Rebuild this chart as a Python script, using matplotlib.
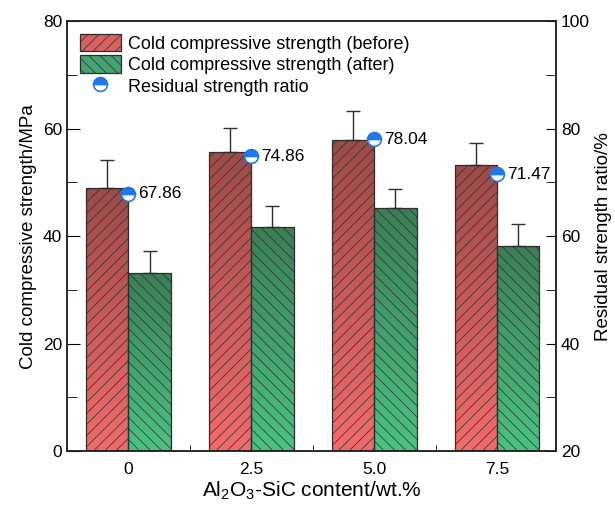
import numpy as np
import matplotlib
matplotlib.use("Agg")
import matplotlib.pyplot as plt
from matplotlib.patches import Patch
from matplotlib.lines import Line2D
from matplotlib.colors import LinearSegmentedColormap

# === Datos ===
contenido = ["0", "2.5", "5.0", "7.5"]
antes = [49.0, 55.7, 57.9, 53.3]
antes_err = [5.1, 4.4, 5.3, 4.1]
despues = [33.2, 41.7, 45.2, 38.2]
despues_err = [4.0, 3.9, 3.6, 4.0]
ratio = [67.86, 74.86, 78.04, 71.47]

plt.rcParams['font.family'] = ['Liberation Sans', 'DejaVu Sans']
plt.rcParams['hatch.linewidth'] = 0.5

rojo = LinearSegmentedColormap.from_list("rojo", ["#f26b6b", "#9c4a4a"])
verde = LinearSegmentedColormap.from_list("verde", ["#4cc184", "#3c7d57"])

fig = plt.figure(figsize=(6.15, 5.05), dpi=100)
ax = fig.add_axes([0.109, 0.107, 0.795, 0.851])

x = np.arange(len(contenido))
w = 0.345
grad = np.linspace(0, 1, 256).reshape(-1, 1)


def barras_degradado(xs, vals, cmap, hatch):
    bars = ax.bar(xs, vals, w, facecolor='none', edgecolor='#2e2e2e',
                  linewidth=0.9, hatch=hatch, zorder=3)
    for b in bars:
        x0, y0 = b.get_x(), b.get_y()
        img = ax.imshow(grad, cmap=cmap, origin='lower', aspect='auto',
                        extent=(x0, x0 + b.get_width(), y0, y0 + b.get_height()),
                        zorder=2)
        img.set_clip_path(b)
    return bars


barras_degradado(x - w / 2, antes, rojo, '///')
barras_degradado(x + w / 2, despues, verde, '\\\\\\')

ax.errorbar(x - w / 2, antes, yerr=[np.zeros(4), antes_err], fmt='none',
            ecolor='#2e2e2e', elinewidth=1, capsize=5, capthick=1, zorder=4)
ax.errorbar(x + w / 2, despues, yerr=[np.zeros(4), despues_err], fmt='none',
            ecolor='#2e2e2e', elinewidth=1, capsize=5, capthick=1, zorder=4)

ax.set_xlim(-0.5, 3.48)
ax.set_ylim(0, 80)
ax.set_xticks(x)
ax.set_xticklabels(contenido)
ax.set_xticks(x[:-1] + 0.5, minor=True)
ax.set_yticks(np.arange(0, 81, 20))
ax.set_yticks(np.arange(10, 80, 20), minor=True)
ax.tick_params(axis='x', which='major', length=0, labelsize=12.5, pad=8)
ax.tick_params(axis='x', which='minor', direction='in', length=4)
ax.tick_params(axis='y', which='both', direction='in', length=9, labelsize=12.5)
ax.tick_params(axis='y', which='minor', length=7)
ax.set_ylabel("Cold compressive strength/MPa", fontsize=13.5)
ax.set_xlabel(r"$\mathregular{Al_2O_3}$-SiC content/wt.%", fontsize=15, labelpad=2)
for s in ax.spines.values():
    s.set_linewidth(1.1)
    s.set_color('#222222')

# Eje secundario: relacion de resistencia residual
ax2 = ax.twinx()
ax2.set_ylim(20, 100)
ax2.set_yticks(np.arange(20, 101, 20))
ax2.set_yticks(np.arange(30, 100, 20), minor=True)
ax2.tick_params(axis='y', which='both', direction='in', length=7, labelsize=12.5)
ax2.set_ylabel("Residual strength ratio/%", fontsize=13.5, labelpad=4)
ax2.plot(x, ratio, linestyle='none', marker='o', markersize=10,
         fillstyle='top', markerfacecolor='#1e78e6', markerfacecoloralt='white',
         markeredgecolor='#1e78e6', markeredgewidth=1.2, zorder=5)
for xi, r in zip(x, ratio):
    ax2.annotate(f"{r:.2f}", (xi, r), xytext=(7, 0), textcoords='offset points',
                 va='center', ha='left', fontsize=12.5)
for s in ax2.spines.values():
    s.set_linewidth(1.1)
    s.set_color('#222222')

handles = [
    Patch(facecolor='#d96060', edgecolor='#2e2e2e', hatch='///', linewidth=0.9),
    Patch(facecolor='#46a271', edgecolor='#2e2e2e', hatch='\\\\\\', linewidth=0.9),
    Line2D([], [], linestyle='none', marker='o', markersize=10, fillstyle='top',
           markerfacecolor='#1e78e6', markerfacecoloralt='white',
           markeredgecolor='#1e78e6', markeredgewidth=1.2),
]
etiquetas = ["Cold compressive strength (before)",
             "Cold compressive strength (after)",
             "Residual strength ratio"]
ax.legend(handles, etiquetas, loc='upper left', frameon=False, fontsize=13,
          handlelength=2.3, handleheight=1.1, handletextpad=0.4,
          labelspacing=0.15, borderaxespad=0.3, bbox_to_anchor=(0.0, 1.0))

fig.savefig("out.png", dpi=100)
